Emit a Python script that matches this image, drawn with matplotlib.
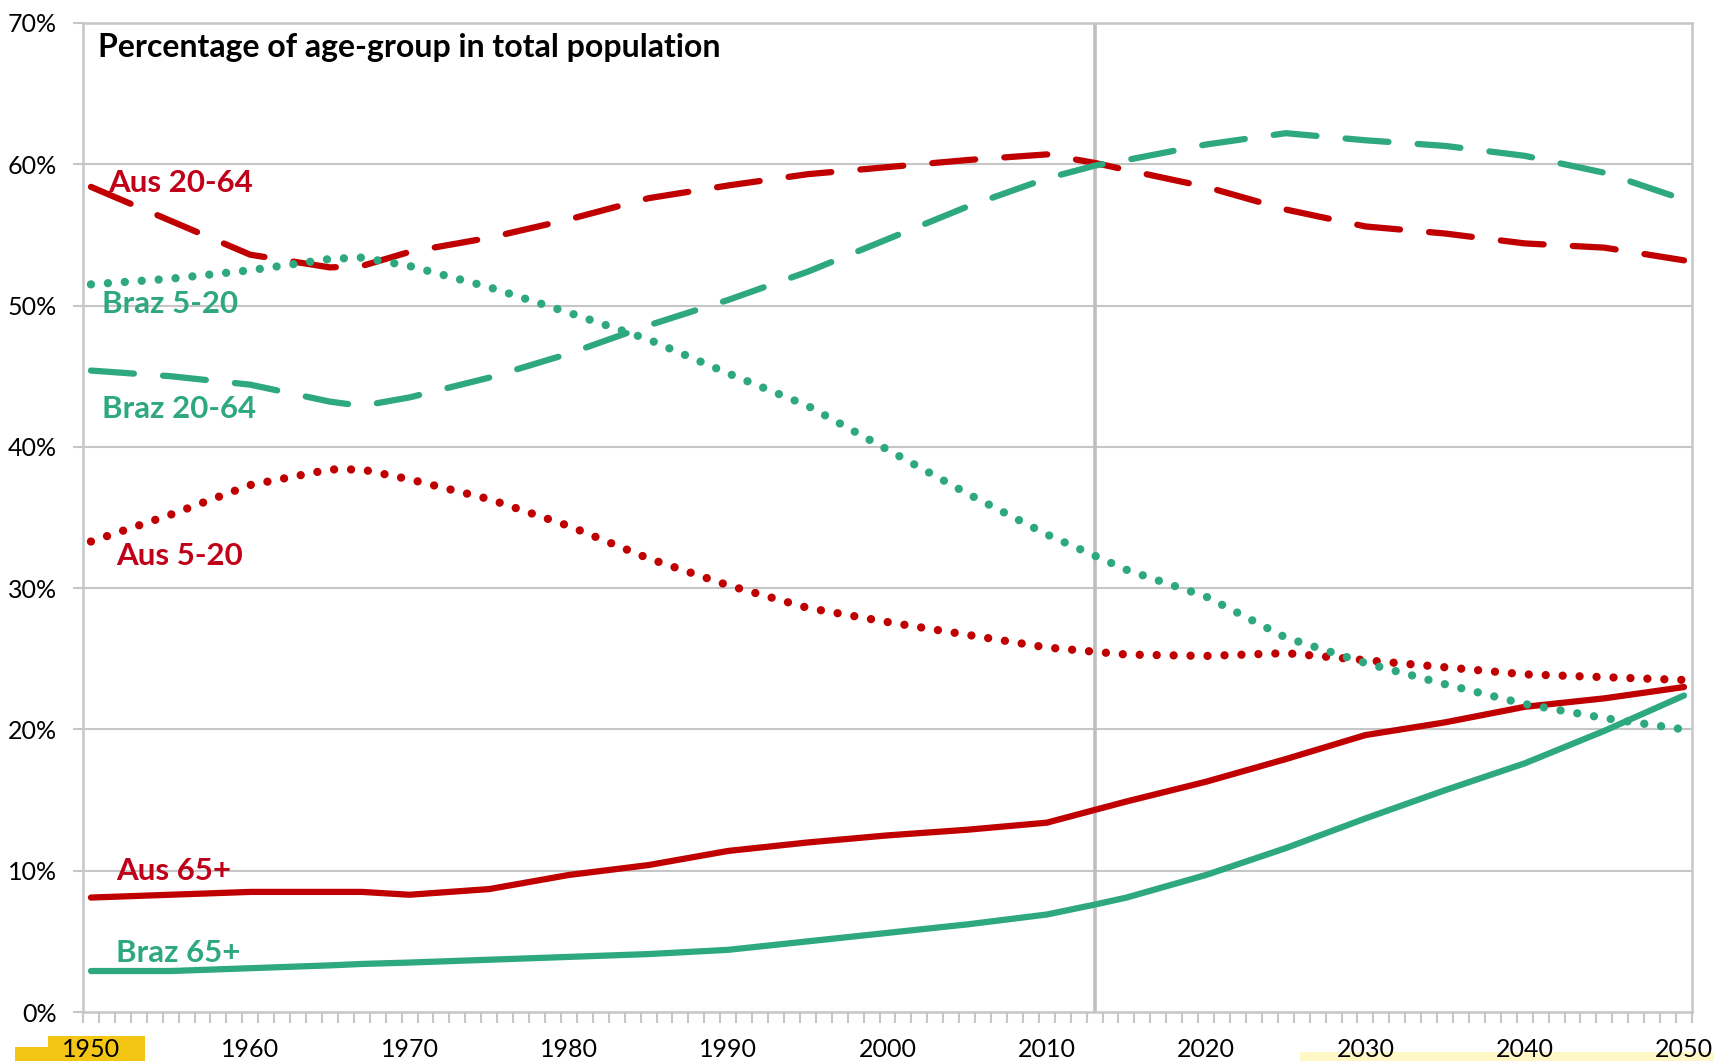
import matplotlib
matplotlib.use("Agg")
import matplotlib.pyplot as plt
from matplotlib.patches import Rectangle
from matplotlib.ticker import FixedLocator, FuncFormatter

plt.rcParams['font.family'] = ['Lato', 'DejaVu Sans']
plt.rcParams['lines.scale_dashes'] = False

# ---------------- data ----------------
years = [1950, 1955, 1960, 1965, 1967, 1970, 1975, 1980, 1985, 1990, 1995,
         2000, 2005, 2010, 2013, 2015, 2020, 2025, 2030, 2035, 2040, 2045, 2050]

aus_20_64 = [58.4, 56.0, 53.6, 52.7, 52.8, 53.8, 54.8, 56.1, 57.6, 58.5, 59.3,
             59.8, 60.3, 60.7, 60.1, 59.6, 58.4, 56.8, 55.6, 55.1, 54.4, 54.1, 53.2]
braz_20_64 = [45.4, 45.0, 44.4, 43.2, 42.9, 43.5, 44.9, 46.6, 48.6, 50.4, 52.4,
              54.7, 57.0, 59.0, 59.9, 60.3, 61.4, 62.2, 61.7, 61.3, 60.6, 59.4, 57.5]
braz_5_20 = [51.5, 51.9, 52.5, 53.3, 53.4, 52.8, 51.3, 49.5, 47.6, 45.2, 42.9,
             39.8, 36.7, 33.8, 32.3, 31.3, 29.4, 26.5, 24.7, 23.2, 21.8, 20.8, 20.0]
aus_5_20 = [33.3, 35.2, 37.3, 38.4, 38.4, 37.7, 36.3, 34.4, 32.1, 30.2, 28.6,
            27.6, 26.7, 25.8, 25.5, 25.3, 25.2, 25.4, 24.9, 24.4, 23.9, 23.7, 23.5]
aus_65 = [8.1, 8.3, 8.5, 8.5, 8.5, 8.3, 8.7, 9.7, 10.4, 11.4, 12.0,
          12.5, 12.9, 13.4, 14.3, 14.9, 16.3, 17.9, 19.6, 20.5, 21.6, 22.2, 23.0]
braz_65 = [2.9, 2.9, 3.1, 3.3, 3.4, 3.5, 3.7, 3.9, 4.1, 4.4, 5.0,
           5.6, 6.2, 6.9, 7.6, 8.1, 9.7, 11.6, 13.7, 15.7, 17.6, 19.9, 22.4]

series_labels = ["Aus 20-64", "Braz 5-20", "Braz 20-64", "Aus 5-20", "Aus 65+", "Braz 65+"]
label_pos = [(1951.1, 58.7), (1950.7, 50.1), (1950.7, 42.7),
             (1951.6, 32.3), (1951.6, 10.0), (1951.6, 4.2)]

x_ticks = [1950, 1960, 1970, 1980, 1990, 2000, 2010, 2020, 2030, 2040, 2050]
y_ticks = [0, 10, 20, 30, 40, 50, 60, 70]
current_year = 2013
title = "Percentage of age-group in total population"

# ---------------- style ----------------
RED = "#C00000"
RED_TXT = "#C00018"
GREEN = "#2EA87E"
GRID = "#C6C6C6"
LW = 4.5
DOT_LW = 6.0

fig = plt.figure(figsize=(17.15, 10.61), dpi=100)
ax = fig.add_axes([83 / 1715, 1 - 1012 / 1061, (1692 - 83) / 1715, (1012 - 23) / 1061])

ax.set_xlim(1949.5, 2050.5)
ax.set_ylim(0, 70)

for v in y_ticks[1:]:
    ax.axhline(v, color=GRID, lw=1.5, zorder=1)
ax.axvline(current_year, color="#BFBFBF", lw=2.6, zorder=1.5)

dash = (31, 21)
dot = (0.01, 12.2)

# Australia (red) first, Brazil (green) on top
ax.plot(years, aus_20_64, color=RED, lw=LW, dashes=dash, dash_capstyle='round', zorder=3)
ax.plot(years, aus_5_20, color=RED, lw=DOT_LW, dashes=dot, dash_capstyle='round', zorder=3)
ax.plot(years, aus_65, color=RED, lw=LW, solid_capstyle='round', zorder=3)
ax.plot(years, braz_20_64, color=GREEN, lw=LW, dashes=dash, dash_capstyle='round', zorder=4)
ax.plot(years, braz_5_20, color=GREEN, lw=DOT_LW, dashes=dot, dash_capstyle='round', zorder=4)
ax.plot(years, braz_65, color=GREEN, lw=LW, solid_capstyle='round', zorder=4)

label_colors = [RED_TXT, GREEN, GREEN, RED_TXT, RED_TXT, GREEN]
for txt, (lx, ly), c in zip(series_labels, label_pos, label_colors):
    ax.text(lx, ly, txt, color=c, fontsize=22.5, fontweight='bold', ha='left', va='center', zorder=5)

ax.text(98 / 1715, 1 - 47 / 1061, title, transform=fig.transFigure, fontsize=23,
        fontweight='bold', color='black', ha='left', va='center')

# spines
for side in ['left', 'right', 'bottom', 'top']:
    ax.spines[side].set_color(GRID)
    ax.spines[side].set_linewidth(1.8)

# x ticks: category-style tick marks at half years, labels at decades
ax.xaxis.set_major_locator(FixedLocator(x_ticks))
ax.xaxis.set_minor_locator(FixedLocator([1949.5 + k for k in range(102)]))
ax.tick_params(axis='x', which='major', length=0, pad=19, labelsize=18, labelcolor='black')
ax.tick_params(axis='x', which='minor', length=8, width=1.5, color=GRID, direction='out')

ax.yaxis.set_major_locator(FixedLocator(y_ticks))
ax.yaxis.set_major_formatter(FuncFormatter(lambda v, p: f"{int(v)}%"))
ax.tick_params(axis='y', which='major', length=7, width=1.5, color=GRID, pad=12,
               labelsize=18, labelcolor='black')

# decorative bottom elements
fig.add_artist(Rectangle((1300 / 1715, 0), 415 / 1715, 9 / 1061, transform=fig.transFigure,
                         facecolor="#FFF7C6", edgecolor='none', zorder=0))
fig.add_artist(Rectangle((48 / 1715, 0), 97 / 1715, 25 / 1061, transform=fig.transFigure,
                         facecolor="#F3C515", edgecolor='none', zorder=0))
fig.add_artist(Rectangle((15 / 1715, 0), 40 / 1715, 14 / 1061, transform=fig.transFigure,
                         facecolor="#F3C515", edgecolor='none', zorder=0))

fig.savefig("out.png", dpi=100)
